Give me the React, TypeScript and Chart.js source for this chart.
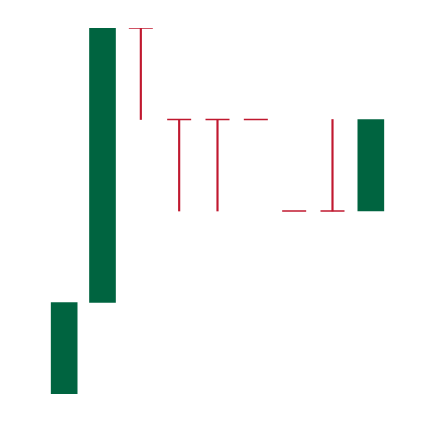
import React, { useEffect, useRef } from "react";
import { Chart, registerables } from "chart.js";

Chart.register(...registerables);

const categories = ["A", "B", "C", "D", "E", "F", "G", "H", "I"];
const greenBars: ([number, number] | null)[] = [[0, 1], [1, 4], null, null, null, null, null, null, [2, 3]];
const redRanges: ([number, number] | null)[] = [null, null, [3, 4], [2, 3], [2, 3], null, null, [2, 3], null];
const capLevels: (number | null)[] = [null, null, 4, 3, 3, 3, 2, 2, null];

const GREEN = "#006440";
const RED = "#c0182f";

export default function App() {
  const ref = useRef<HTMLCanvasElement | null>(null);
  useEffect(() => {
    if (!ref.current) return;
    const chart = new Chart(ref.current, {
      type: "bar",
      data: {
        labels: categories,
        datasets: [
          {
            type: "bar",
            data: greenBars as any,
            backgroundColor: GREEN,
            barThickness: 26,
            grouped: false,
            order: 2,
          } as any,
          {
            type: "bar",
            data: redRanges as any,
            backgroundColor: RED,
            barThickness: 1.5,
            grouped: false,
            order: 1,
          } as any,
          {
            type: "line",
            data: capLevels,
            showLine: false,
            pointStyle: "line",
            pointRadius: 12,
            pointHoverRadius: 12,
            pointBorderColor: RED,
            pointBorderWidth: 1.5,
            borderColor: RED,
            order: 0,
          } as any,
        ],
      },
      options: {
        animation: false,
        responsive: false,
        maintainAspectRatio: false,
        layout: { padding: { left: 37, right: 36, top: 20, bottom: 20 } },
        plugins: { legend: { display: false }, tooltip: { enabled: false } },
        scales: {
          x: { display: false, offset: true },
          y: { display: false, min: 0, max: 4 },
        },
      },
    });
    return () => chart.destroy();
  }, []);
  return (
    <div style={{ width: 418, height: 406 }}>
      <canvas ref={ref} width={418} height={406} style={{ display: "block" }} />
    </div>
  );
}
